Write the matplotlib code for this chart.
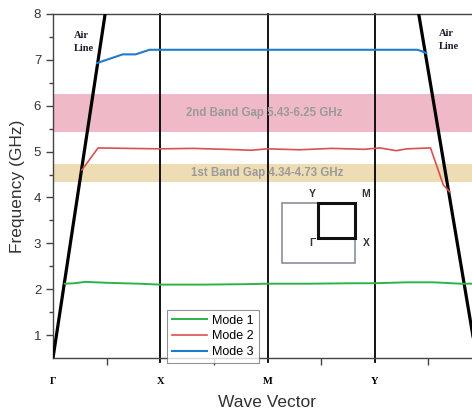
import matplotlib.pyplot as plt
from matplotlib.patches import Rectangle

# symmetry points along the wave vector axis
k_labels = ['Γ', 'X', 'M', 'Y']
k_ticks = [0, 1, 2, 3]

# mode 1 (green)
m1_k = [0.11, 0.20, 0.30, 0.50, 0.80, 1.00, 1.40, 1.80, 2.00, 2.40, 2.80, 3.00, 3.30, 3.55, 3.80, 3.95]
m1_f = [2.12, 2.13, 2.16, 2.14, 2.12, 2.10, 2.10, 2.11, 2.12, 2.12, 2.13, 2.13, 2.15, 2.15, 2.12, 2.12]

# mode 2 (red)
m2_k = [0.27, 0.42, 0.70, 1.00, 1.30, 1.60, 1.85, 2.00, 2.30, 2.60, 2.90, 3.05, 3.20, 3.30, 3.52, 3.64, 3.70]
m2_f = [4.60, 5.08, 5.07, 5.06, 5.07, 5.05, 5.03, 5.06, 5.04, 5.07, 5.05, 5.08, 5.02, 5.06, 5.08, 4.27, 4.12]

# mode 3 (blue)
m3_k = [0.41, 0.65, 0.77, 0.90, 1.00, 2.00, 3.00, 3.40, 3.48]
m3_f = [6.93, 7.12, 7.12, 7.22, 7.22, 7.22, 7.22, 7.22, 7.15]

# air lines
air_left_k = [0.0, 0.486]
air_left_f = [0.5, 8.0]
air_right_k = [3.41, 3.95]
air_right_f = [8.0, 0.5]

# band gaps (GHz)
gap1 = (4.34, 4.73)
gap2 = (5.43, 6.25)

fig = plt.figure(figsize=(4.72, 4.12), dpi=100)
ax = fig.add_axes([53/472, 1-358/412, 429/472, 344/412])
ax.set_xlim(0, 4)
ax.set_ylim(0.5, 8)

ax.axhspan(*gap2, color='#efb9c8', zorder=0, lw=0)
ax.axhspan(*gap1, color='#eedcb5', zorder=0, lw=0)
ax.text(1.97, sum(gap2)/2, '2nd Band Gap 5.43-6.25 GHz', ha='center', va='center',
        fontsize=8.3, fontweight='bold', color='#9a9a9a', family='Liberation Sans')
ax.text(2.0, sum(gap1)/2, '1st Band Gap 4.34-4.73 GHz', ha='center', va='center',
        fontsize=8.3, fontweight='bold', color='#9a9a9a', family='Liberation Sans')

for k in k_ticks[1:]:
    ax.plot([k, k], [0.42, 8], color='black', lw=1.3, clip_on=False, zorder=2)

ax.plot(air_left_k, air_left_f, color='black', lw=2.3, zorder=3)
ax.plot(air_right_k, air_right_f, color='black', lw=2.3, zorder=3)
ax.text(0.196, 7.39, 'Air\nLine', fontsize=7.5, fontweight='bold', family='Liberation Serif',
        va='center', ha='left', color='#1a1a2a', linespacing=1.5)
ax.text(3.60, 7.43, 'Air\nLine', fontsize=7.5, fontweight='bold', family='Liberation Serif',
        va='center', ha='left', color='#1a1a2a', linespacing=1.5)

ax.plot(m1_k, m1_f, color='#2db34a', lw=1.4, label='Mode 1', zorder=4)
ax.plot(m2_k, m2_f, color='#d9504f', lw=1.2, label='Mode 2', zorder=4)
ax.plot(m3_k, m3_f, color='#1f7ccc', lw=1.5, label='Mode 3', zorder=4)

leg = ax.legend(loc='lower left', bbox_to_anchor=(0.266, -0.015), borderaxespad=0,
                frameon=True, fancybox=False, edgecolor='#777777',
                prop={'family': 'Liberation Sans', 'size': 9},
                handlelength=2.8, labelspacing=0.3, borderpad=0.4, handletextpad=0.4)
leg.get_frame().set_linewidth(0.8)

ax.set_xticks(k_ticks)
ax.set_xticklabels(k_labels, fontsize=7.5, fontweight='bold', family='Liberation Serif')
ax.set_xticks([0.5, 1.5, 2.5, 3.5], minor=True)
ax.tick_params(axis='x', which='major', length=0, pad=14)
ax.tick_params(axis='x', which='minor', length=5, width=1, color='#444444', direction='out')
ax.set_yticks([1, 2, 3, 4, 5, 6, 7, 8])
ax.set_yticks([1.5, 2.5, 3.5, 4.5, 5.5, 6.5, 7.5], minor=True)
ax.tick_params(axis='y', which='major', length=5, width=1, color='#444444', labelsize=9.5)
ax.tick_params(axis='y', which='minor', length=3, width=1, color='#444444')
for lab in ax.get_yticklabels():
    lab.set_family('Liberation Sans')
    lab.set_color('#333333')

for s in ['left', 'top', 'bottom']:
    ax.spines[s].set_color('#444444')
    ax.spines[s].set_linewidth(1.0)
ax.spines['right'].set_visible(False)

ax.set_xlabel('Wave Vector', fontsize=12.5, family='Liberation Sans', color='#333333', labelpad=6)
ax.set_ylabel('Frequency (GHz)', fontsize=12.5, family='Liberation Sans', color='#333333', labelpad=6)

# Brillouin zone inset (pixel coordinates overlay)
ov = fig.add_axes([0, 0, 1, 1], facecolor='none')
ov.set_xlim(0, 472)
ov.set_ylim(412, 0)
ov.axis('off')
ov.add_patch(Rectangle((282, 203), 73, 60, fill=False, edgecolor='#8a8fa0', lw=1.2))
ov.add_patch(Rectangle((318, 203), 37, 35, fill=False, edgecolor='#111111', lw=2.2))
for t, x, y in [('Y', 312, 194), ('M', 366, 194), ('Γ', 312, 243), ('X', 366, 243)]:
    ov.text(x, y, t, ha='center', va='center', fontsize=7.5, fontweight='bold',
            color='#333333', family='Liberation Sans')

fig.savefig('out.png', dpi=100)
